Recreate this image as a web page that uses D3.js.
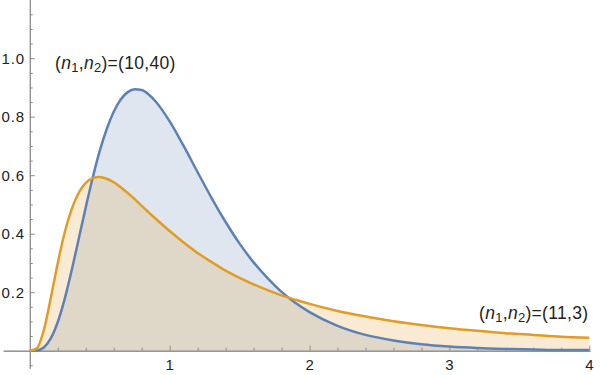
<!DOCTYPE html>
<meta charset="utf-8">
<style>
body { margin: 0; background: #fff; }
text { font-family: "Liberation Sans", Arial, sans-serif; }
.tick text { font-size: 15px; fill: #222; letter-spacing: 0.8px; }
.axis path, .axis line { stroke: #8c8c8c; }
</style>
<head>
<script src="https://d3js.org/d3.v7.min.js"></script>
</head>
<html>
<body>
<script>
// x positions shared by both densities
var xs = [0, 0.05, 0.1, 0.15, 0.2, 0.25, 0.3, 0.35, 0.4, 0.45, 0.5, 0.55, 0.6, 0.65, 0.7, 0.75, 0.8, 0.85, 0.9,
          1.0, 1.1, 1.2, 1.3, 1.4, 1.5, 1.6, 1.7, 1.8, 1.9, 2.0, 2.2, 2.4, 2.6, 2.8, 3.0, 3.2, 3.4, 3.6, 3.8, 4.0];
// (n1,n2)=(10,40)
var blueVals = [0, 0.001, 0.011, 0.042, 0.098, 0.178, 0.276, 0.383, 0.490, 0.592, 0.683, 0.758, 0.817, 0.859, 0.884, 0.894, 0.891, 0.876, 0.852,
                0.784, 0.700, 0.610, 0.522, 0.440, 0.366, 0.302, 0.248, 0.201, 0.163, 0.132, 0.085, 0.054, 0.035, 0.022, 0.014, 0.009, 0.006, 0.004, 0.002, 0.002];
// (n1,n2)=(11,3)
var orangeVals = [0, 0.008, 0.070, 0.180, 0.300, 0.405, 0.485, 0.540, 0.574, 0.590, 0.594, 0.588, 0.576, 0.559, 0.539, 0.518, 0.495, 0.473, 0.451,
                  0.409, 0.370, 0.334, 0.303, 0.274, 0.249, 0.227, 0.207, 0.189, 0.174, 0.160, 0.136, 0.117, 0.101, 0.088, 0.077, 0.068, 0.060, 0.054, 0.048, 0.044];

var xTicks = [1, 2, 3, 4];
var yTicks = [0.2, 0.4, 0.6, 0.8, 1.0];

var width = 600, height = 375;

var x = d3.scaleLinear().domain([0, 4]).range([29.8, 589.3]);
var y = d3.scaleLinear().domain([0, 1]).range([350.7, 58.2]);

var svg = d3.select("body").append("svg")
    .attr("width", width)
    .attr("height", height);

var xAxisScale = x.copy().domain([-0.19, 4.005]).range([x(-0.19), x(4.005)]);
var yAxisScale = y.copy().domain([-0.06, 1.2]).range([y(-0.06), y(1.2)]);

var minorX = d3.range(0, 4.01, 0.2).filter(function(d) { return Math.abs(d - Math.round(d)) > 1e-6; });
var minorY = d3.range(-0.05, 1.2, 0.05).filter(function(d) { return Math.abs(d * 5 - Math.round(d * 5)) > 1e-6; });

// fills
var area = d3.area()
    .x(function(d, i) { return x(xs[i]); })
    .y0(y(0))
    .y1(function(d) { return y(d); })
    .curve(d3.curveMonotoneX);

svg.append("path").datum(blueVals)
    .attr("d", area)
    .attr("fill", "#5E81B5").attr("fill-opacity", 0.2);
svg.append("path").datum(orangeVals)
    .attr("d", area)
    .attr("fill", "#E19C24").attr("fill-opacity", 0.2);

// axes
svg.append("g").attr("class", "axis")
    .attr("transform", "translate(0," + y(0) + ")")
    .call(d3.axisBottom(xAxisScale).tickValues(xTicks).tickSizeInner(-5).tickSizeOuter(0).tickPadding(9).tickFormat(d3.format("d")));
svg.append("g").attr("class", "axis")
    .attr("transform", "translate(0," + y(0) + ")")
    .call(d3.axisBottom(xAxisScale).tickValues(minorX).tickSizeInner(-3).tickSizeOuter(0).tickFormat(""));
svg.append("g").attr("class", "axis")
    .attr("transform", "translate(" + x(0) + ",0)")
    .call(d3.axisLeft(yAxisScale).tickValues(yTicks).tickSizeInner(-5).tickSizeOuter(0).tickPadding(5).tickFormat(d3.format(".1f")));
svg.append("g").attr("class", "axis")
    .attr("transform", "translate(" + x(0) + ",0)")
    .call(d3.axisLeft(yAxisScale).tickValues(minorY).tickSizeInner(-3).tickSizeOuter(0).tickFormat(""));

svg.selectAll(".axis .domain").attr("stroke", "#8c8c8c");

// lines
var line = d3.line()
    .x(function(d, i) { return x(xs[i]); })
    .y(function(d) { return y(d); })
    .curve(d3.curveMonotoneX);

svg.append("path").datum(blueVals)
    .attr("d", line)
    .attr("fill", "none").attr("stroke", "#5E81B5").attr("stroke-width", 2.5);
svg.append("path").datum(orangeVals)
    .attr("d", line)
    .attr("fill", "none").attr("stroke", "#E19C24").attr("stroke-width", 2.5);

// labels
function label(px, py, a, b) {
  var t = svg.append("text").attr("x", px).attr("y", py)
      .attr("font-size", "17.5px").attr("fill", "#222").attr("letter-spacing", "0.3px");
  t.append("tspan").text("(");
  t.append("tspan").attr("font-style", "italic").text("n");
  t.append("tspan").attr("font-size", "13px").attr("dy", 3).text("1");
  t.append("tspan").attr("dy", -3).text(",");
  t.append("tspan").attr("font-style", "italic").text("n");
  t.append("tspan").attr("font-size", "13px").attr("dy", 3).text("2");
  t.append("tspan").attr("dy", -3).text(")=(" + a + "," + b + ")");
}
label(55, 69, 10, 40);
label(479, 319, 11, 3);
</script>
</body>
</html>
